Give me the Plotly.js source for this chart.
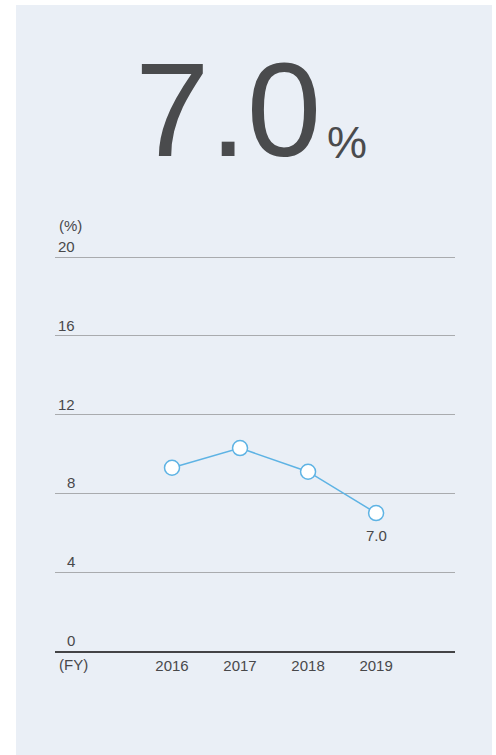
<!DOCTYPE html>
<html>
<head>
<meta charset="utf-8">
<script src="https://cdn.plot.ly/plotly-3.0.1.min.js"></script>
<style>
html,body{margin:0;padding:0;background:#fff;}
#chart{width:496px;height:755px;}
</style>
</head>
<body>
<div id="chart"></div>
<script>
const years = [2016, 2017, 2018, 2019];
const values = [9.3, 10.3, 9.1, 7.0];
const pointLabels = ['', '', '', '7.0'];
const yTicks = [0, 4, 8, 12, 16, 20];
const yTickLabels = ['0', '4', '8', '12', '16', '20'];
const headline = '7.0';
const headlineUnit = '%';
const yUnit = '(%)';
const xUnit = '(FY)';

const W = 496, H = 755;
const L = 55, R = 455, T = 253, B = 651;
const pw = R - L, ph = B - T;
const px = v => (v - L) / pw;
const py = v => (B - v) / ph;

const fam = '"Liberation Sans", Arial, sans-serif';
const textColor = '#48484a';
const font = {family: fam, size: 15, color: textColor};

const annotations = [];
yTicks.forEach((t, i) => {
  annotations.push({
    xref: 'paper', yref: 'y', x: px(76.5), y: t, xanchor: 'right', yanchor: 'middle',
    yshift: 10.5, text: yTickLabels[i], showarrow: false, font: font
  });
});
annotations.push({xref: 'paper', yref: 'y', x: px(56.5), y: 20, xanchor: 'left', yanchor: 'middle',
  yshift: 32, text: yUnit, showarrow: false, font: font});
annotations.push({xref: 'paper', yref: 'paper', x: px(56.5), y: py(664), xanchor: 'left', yanchor: 'middle',
  text: xUnit, showarrow: false, font: font});
pointLabels.forEach((lab, i) => {
  if (!lab) return;
  annotations.push({xref: 'x', yref: 'y', x: years[i], y: values[i], xanchor: 'center', yanchor: 'middle',
    yshift: -22, text: lab, showarrow: false, font: font});
});
annotations.push({xref: 'paper', yref: 'paper', x: px(228), y: py(109), xanchor: 'center', yanchor: 'middle',
  text: headline, showarrow: false,
  font: {family: fam, size: 134, color: '#4a4b4d', weight: 400}});
annotations.push({xref: 'paper', yref: 'paper', x: px(347), y: py(142), xanchor: 'center', yanchor: 'middle',
  text: headlineUnit, showarrow: false,
  font: {family: fam, size: 45, color: '#4a4b4d', weight: 400}});

const trace = {
  x: years, y: values, type: 'scatter', mode: 'lines+markers',
  line: {color: '#5eb3e4', width: 1.5},
  marker: {size: 15, color: '#ffffff', line: {color: '#5eb3e4', width: 1.5}},
  cliponaxis: false, hoverinfo: 'none'
};

const layout = {
  width: W, height: H,
  margin: {l: L, r: W - R, t: T, b: H - B, pad: 0},
  paper_bgcolor: '#ffffff',
  plot_bgcolor: 'rgba(0,0,0,0)',
  showlegend: false,
  font: font,
  xaxis: {
    range: [2014.28, 2020.16], tickvals: years, ticktext: years.map(String),
    showgrid: false, zeroline: false, showline: true, linecolor: '#444446', linewidth: 1.5,
    ticks: '', tickfont: font, fixedrange: true
  },
  yaxis: {
    range: [0, 20 * ph / 394], tickvals: yTicks, showticklabels: false,
    showgrid: true, gridcolor: '#a9abae', gridwidth: 1, zeroline: false, showline: false,
    ticks: '', fixedrange: true
  },
  shapes: [{
    type: 'rect', xref: 'paper', yref: 'paper', layer: 'below',
    x0: px(16), x1: px(492), y0: py(755), y1: py(5),
    fillcolor: '#eaeff6', line: {width: 0}
  }],
  annotations: annotations
};

Plotly.newPlot('chart', [trace], layout, {displayModeBar: false, staticPlot: true});
</script>
</body>
</html>
